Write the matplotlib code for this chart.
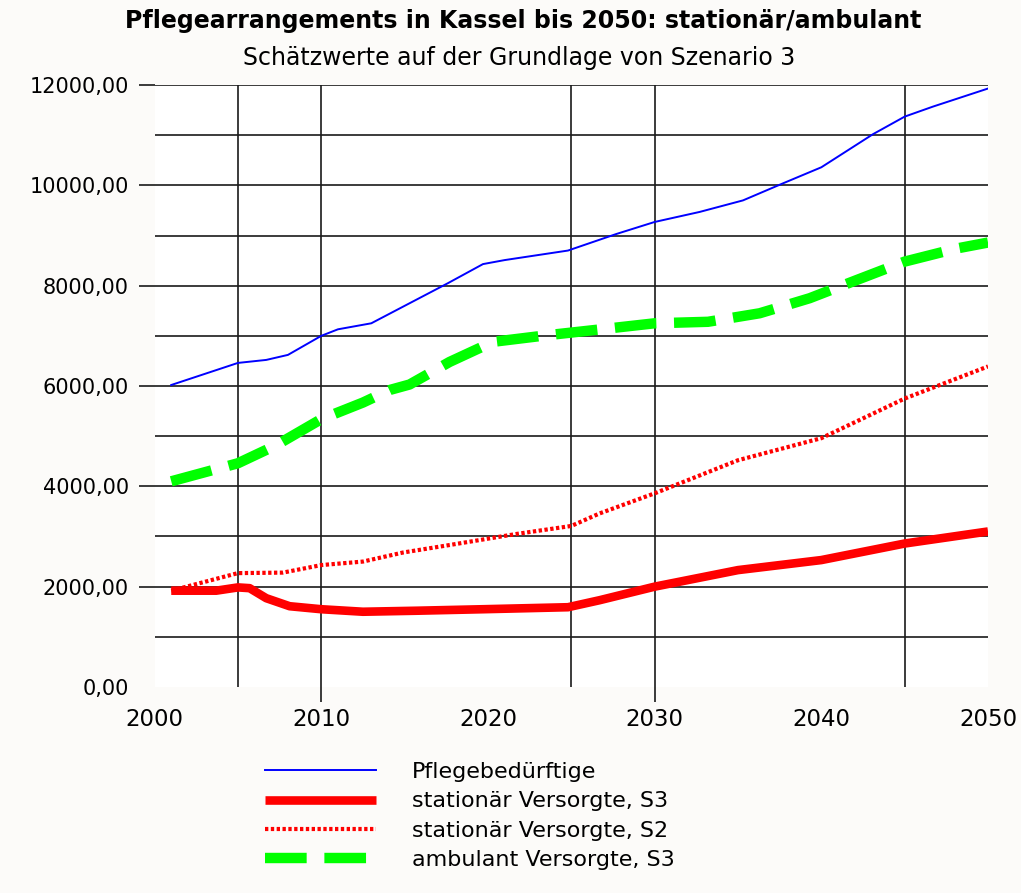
import matplotlib.pyplot as plt
import numpy as np

# Pflegebeduerftige insgesamt
jahre_pb = [2001, 2005, 2006.7, 2008, 2010, 2011, 2013, 2015.3, 2017.6, 2019.7, 2021,
            2024.8, 2027.7, 2030, 2032.7, 2035.3, 2037.7, 2040, 2043.1, 2045, 2046.7, 2050]
werte_pb = [6020, 6460, 6520, 6620, 7000, 7130, 7250, 7650, 8050, 8430, 8510,
            8700, 9030, 9270, 9470, 9700, 10040, 10360, 11020, 11370, 11570, 11930]

# stationaer versorgt, Szenario 3
jahre_st3 = [2001, 2003.7, 2005, 2005.7, 2006.7, 2008.1, 2010, 2012.5, 2015.7, 2019.7,
             2024.8, 2026.7, 2030, 2035, 2040, 2045, 2050]
werte_st3 = [1920, 1920, 1985, 1970, 1770, 1610, 1550, 1500, 1520, 1550,
             1590, 1730, 2000, 2330, 2530, 2860, 3100]

# stationaer versorgt, Szenario 2
jahre_st2 = [2001, 2005, 2007.7, 2010, 2012.5, 2014.9, 2017.7, 2021.7, 2025, 2026.7,
             2030, 2035, 2040, 2045, 2050]
werte_st2 = [1920, 2270, 2280, 2430, 2500, 2680, 2830, 3050, 3210, 3460,
             3860, 4520, 4960, 5750, 6390]

# ambulant versorgt, Szenario 3
jahre_amb = [2001, 2005, 2007.3, 2010, 2012.5, 2014.1, 2015.3, 2017.7, 2020.3, 2023.5,
             2026.5, 2030, 2033.2, 2036.3, 2039.3, 2042.1, 2045, 2048.1, 2050]
werte_amb = [4100, 4460, 4820, 5340, 5670, 5920, 6030, 6480, 6880, 7010,
             7120, 7250, 7280, 7450, 7750, 8110, 8480, 8740, 8860]

x_ticks = [2000, 2010, 2020, 2030, 2040, 2050]
y_ticks = [0, 2000, 4000, 6000, 8000, 10000, 12000]
y_labels = [f"{v:.2f}".replace('.', ',') for v in y_ticks]
gitter_jahre = [2005, 2010, 2025, 2030, 2045]   # senkrechte Linien im Bild
strich_jahre = [2010, 2030]                      # diese gehen unter die Achse

fig = plt.figure(figsize=(10.21, 8.93), dpi=100)
fig.patch.set_facecolor('#fcfbf9')
ax = fig.add_axes([0.1514, 0.2307, 0.8163, 0.6741])
ax.set_facecolor('white')

# Gitter
ax.vlines(gitter_jahre, 0, 1, transform=ax.get_xaxis_transform(),
          color='#1a1a1a', lw=1.2, zorder=1)
ax.vlines(strich_jahre, -0.025, 0, transform=ax.get_xaxis_transform(),
          color='#1a1a1a', lw=1.2, zorder=1, clip_on=False)
ax.set_yticks(y_ticks)
ax.set_yticks(np.arange(1000, 12000, 2000), minor=True)
ax.grid(axis='y', which='both', color='#1a1a1a', lw=1.2, zorder=1)
ax.get_ygridlines()[0].set_visible(False)
ax.set_axisbelow(True)

ax.plot(jahre_pb, werte_pb, color='#0000ff', lw=1.4, label='Pflegebedürftige', zorder=3)
ax.plot(jahre_st3, werte_st3, color='#ff0000', lw=6.2, label='stationär Versorgte, S3',
        solid_capstyle='butt', zorder=3)
ax.plot(jahre_st2, werte_st2, color='#ff0000', lw=3, linestyle=(0, (0.8, 0.6)),
        label='stationär Versorgte, S2', zorder=4)
ax.plot(jahre_amb, werte_amb, color='#00ff00', lw=7.5, linestyle=(0, (4.0, 1.7)),
        label='ambulant Versorgte, S3', zorder=5)

ax.set_xlim(2000, 2050)
ax.set_ylim(0, 12000)
for s in ax.spines.values():
    s.set_visible(False)

ax.set_xticks(x_ticks)
ax.tick_params(axis='x', which='major', length=0, pad=15, labelsize=16.5)
ax.set_yticklabels(y_labels)
ax.tick_params(axis='y', which='major', length=11.5, width=1.2, color='#1a1a1a',
               pad=7, labelsize=15)
ax.tick_params(axis='y', which='minor', length=0)
# bei 0 kein Strich
ax.yaxis.get_major_ticks()[0].tick1line.set_visible(False)

fig.text(0.512, 0.977, 'Pflegearrangements in Kassel bis 2050: stationär/ambulant',
         ha='center', va='center', fontsize=17, fontweight='bold')
fig.text(0.508, 0.935, 'Schätzwerte auf der Grundlage von Szenario 3',
         ha='center', va='center', fontsize=17)

fig.legend(loc='upper left', bbox_to_anchor=(265 / 1021, 1 - 762 / 893),
           frameon=False, fontsize=16, handlelength=5.0, handletextpad=1.6,
           labelspacing=0.42, borderpad=0, borderaxespad=0)

fig.savefig('out.png', dpi=100, facecolor=fig.get_facecolor())
